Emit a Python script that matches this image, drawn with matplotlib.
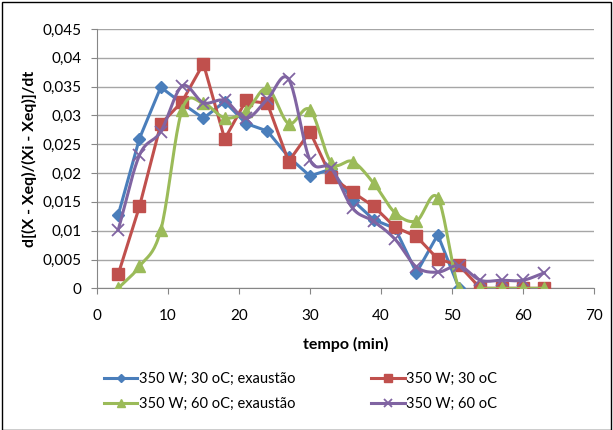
import numpy as np
import matplotlib
matplotlib.use("Agg")
import matplotlib.pyplot as plt
from matplotlib.patches import Rectangle

plt.rcParams['font.family'] = ['Lato', 'DejaVu Sans']

# --- dados ---
tempo = [3, 6, 9, 12, 15, 18, 21, 24, 27, 30, 33, 36, 39, 42, 45, 48, 51, 54, 57, 60, 63]

w350_30_exaustao = [0.0127, 0.026, 0.0349, 0.0321, 0.0295, 0.0324, 0.0286, 0.0273, 0.0228, 0.0195,
                    0.0207, 0.0153, 0.0119, 0.0104, 0.0027, 0.0093, 0.0]
w350_30 = [0.0024, 0.0142, 0.0285, 0.0324, 0.039, 0.0259, 0.0326, 0.0321, 0.022, 0.0272,
           0.0193, 0.0167, 0.0142, 0.0106, 0.009, 0.0051, 0.004, 0, 0, 0, 0]
w350_60_exaustao = [0.0, 0.0038, 0.0101, 0.031, 0.0321, 0.0296, 0.0307, 0.0347, 0.0286, 0.031,
                    0.0218, 0.022, 0.0182, 0.0131, 0.0117, 0.0157, 0, 0, 0, 0, 0]
w350_60 = [0.0101, 0.0231, 0.0272, 0.0351, 0.0322, 0.0326, 0.0295, 0.0328, 0.0363, 0.0223,
           0.0208, 0.0139, 0.0116, 0.0085, 0.0037, 0.0028, 0.0039, 0.0014, 0.0014, 0.0014, 0.0027]

rotulos = ['350 W; 30 oC; exaustão', '350 W; 30 oC', '350 W; 60 oC; exaustão', '350 W; 60 oC']


def suavizar(x, y, n=20):
    """Linha suavizada tipo Excel (Catmull-Rom), só para desenhar."""
    x = np.asarray(x, float)
    y = np.asarray(y, float)
    px = np.concatenate([[2 * x[0] - x[1]], x, [2 * x[-1] - x[-2]]])
    py = np.concatenate([[2 * y[0] - y[1]], y, [2 * y[-1] - y[-2]]])
    xs, ys = [], []
    t = np.linspace(0, 1, n, endpoint=False)
    for i in range(1, len(px) - 2):
        for arr, out in ((px, xs), (py, ys)):
            p0, p1, p2, p3 = arr[i - 1], arr[i], arr[i + 1], arr[i + 2]
            out.extend(0.5 * ((2 * p1) + (-p0 + p2) * t
                              + (2 * p0 - 5 * p1 + 4 * p2 - p3) * t ** 2
                              + (-p0 + 3 * p1 - 3 * p2 + p3) * t ** 3))
    xs.append(x[-1])
    ys.append(y[-1])
    return np.array(xs), np.array(ys)


fig = plt.figure(figsize=(6.13, 4.3), dpi=100)
ax = fig.add_axes([0.158, 0.3295, 0.811, 0.603])

azul, vermelho, verde, roxo = '#4A7EBB', '#C0504D', '#9BBB59', '#8064A2'

h_azul, = ax.plot(tempo[:len(w350_30_exaustao)], w350_30_exaustao, color=azul, lw=2.2,
                  marker='D', ms=6, zorder=3)
h_verm, = ax.plot(tempo, w350_30, color=vermelho, lw=2.2, marker='s', ms=8, zorder=4)

xs, ys = suavizar(tempo, w350_60_exaustao)
ax.plot(xs, ys, color=verde, lw=2.2, zorder=5)
ax.plot(tempo, w350_60_exaustao, ls='none', color=verde, marker='^', ms=8, zorder=5)
xs, ys = suavizar(tempo, w350_60)
ax.plot(xs, ys, color=roxo, lw=2.2, zorder=6)
ax.plot(tempo, w350_60, ls='none', color=roxo, marker='x', ms=9, mew=1.3, zorder=6)

# handles da legenda (verde e roxo desenhados em duas partes)
h_verde, = ax.plot([], [], color=verde, lw=2.2, marker='^', ms=8)
h_roxo, = ax.plot([], [], color=roxo, lw=2.2, marker='x', ms=9, mew=1.3)

ax.set_xlim(0, 70)
ax.set_ylim(0, 0.045)
ax.set_xticks(np.arange(0, 71, 10))
ax.set_yticks(np.arange(0, 0.0451, 0.005))
ax.set_yticklabels([('%g' % v).replace('.', ',') if v > 1e-9 else '0'
                    for v in np.arange(0, 0.0451, 0.005)])
ax.yaxis.grid(True, color='#A6A6A6', lw=1)
ax.set_axisbelow(True)
for s in ['top', 'right']:
    ax.spines[s].set_visible(False)
for s in ['left', 'bottom']:
    ax.spines[s].set_color('#868686')
ax.tick_params(axis='both', colors='#868686', labelcolor='black', labelsize=11, length=4)
ax.tick_params(axis='x', pad=11)
ax.tick_params(axis='y', pad=7)

ax.set_xlabel('tempo (min)', fontweight='bold', fontsize=11.5, labelpad=10)
ax.set_ylabel('d[(X - Xeq)/(Xi - Xeq)]/dt', fontweight='bold', fontsize=11.5, labelpad=4)

# ordem por colunas: azul/verde na 1a coluna, vermelho/roxo na 2a
fig.legend([h_azul, h_verde, h_verm, h_roxo],
           [rotulos[0], rotulos[2], rotulos[1], rotulos[3]], ncol=2, frameon=False,
           loc='upper left', bbox_to_anchor=(0.16, 0.148), fontsize=10.5, markerscale=0.7,
           handlelength=2.3, handletextpad=0.1, columnspacing=5.2, labelspacing=0.75,
           borderaxespad=0)

fig.patches.append(Rectangle((0.004, 0.0), 0.992, 0.995, transform=fig.transFigure,
                             fill=False, ec='black', lw=1))

fig.savefig('out.png', dpi=100)
